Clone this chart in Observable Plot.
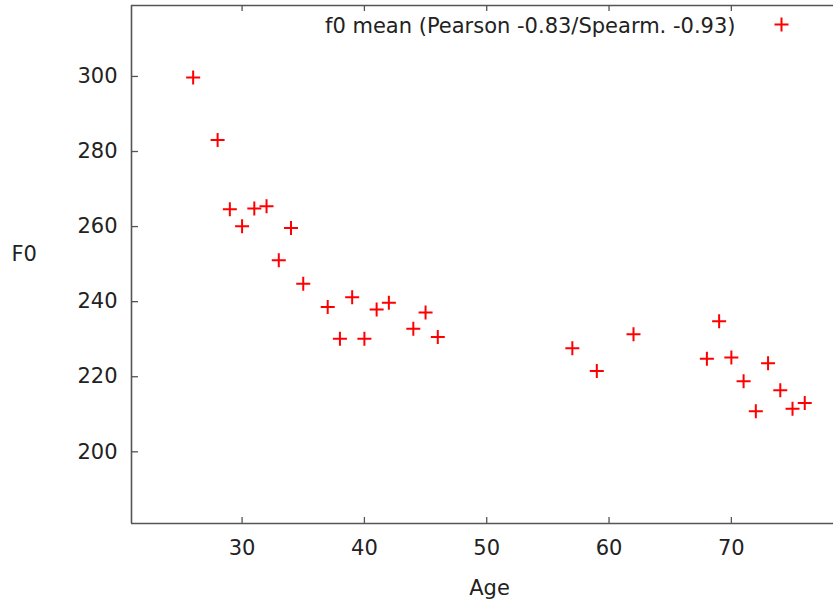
<!DOCTYPE html>
<html>
<head>
<meta charset="utf-8">
<script src="https://cdn.jsdelivr.net/npm/d3@7"></script>
<script src="https://cdn.jsdelivr.net/npm/@observablehq/plot@0.6"></script>
<style>
  html, body { margin: 0; padding: 0; background: #fff; }
</style>
</head>
<body>
<div id="chart"></div>
<script>
const ages = [26, 28, 29, 30, 31, 32, 33, 34, 35, 37, 38, 39, 40, 41, 42, 44, 45, 46, 57, 59, 62, 68, 69, 70, 71, 72, 73, 74, 75, 76];
const f0Mean = [299.7, 283.1, 264.6, 260.1, 264.8, 265.4, 251.0, 259.6, 244.8, 238.6, 230.1, 241.2, 230.1, 237.9, 239.7, 232.8, 237.1, 230.6, 227.6, 221.5, 231.3, 224.8, 234.8, 225.1, 218.8, 210.8, 223.6, 216.4, 211.5, 213.0];
const xTicks = [30, 40, 50, 60, 70];
const yTicks = [200, 220, 240, 260, 280, 300];
const seriesLabel = "f0 mean (Pearson -0.83/Spearm. -0.93)";
const xLabel = "Age";
const yLabel = "F0";

const data = ages.map((a, i) => ({age: a, f0: f0Mean[i]}));

const xDom = [20.96, 78.35];
const yDom = [180.9, 318.9];
const pxX = (xDom[1] - xDom[0]) / (833 - 131);
const pxY = (yDom[1] - yDom[0]) / (523 - 5);

const plusSymbol = {
  draw(context) {
    const a = 7;
    context.moveTo(-a, 0); context.lineTo(a, 0);
    context.moveTo(0, -a); context.lineTo(0, a);
  }
};

const frameColor = "#555";
const red = "#f00";

const chart = Plot.plot({
  width: 833,
  height: 603,
  marginLeft: 131,
  marginRight: 0,
  marginTop: 5,
  marginBottom: 80,
  style: {fontFamily: "DejaVu Sans, sans-serif", fontSize: "21px", color: "#222", background: "#fff"},
  x: {domain: xDom},
  y: {domain: yDom},
  marks: [
    // frame (left, bottom, top)
    Plot.ruleX([xDom[0]], {stroke: frameColor, strokeWidth: 1.6}),
    Plot.ruleY([yDom[0], yDom[1]], {stroke: frameColor, strokeWidth: 1.6}),
    // inward ticks
    Plot.ruleY(yTicks, {y: d => d, x1: xDom[0], x2: xDom[0] + 7 * pxX, stroke: frameColor, strokeWidth: 1.3}),
    Plot.ruleX(xTicks, {x: d => d, y1: yDom[0], y2: yDom[0] + 6 * pxY, stroke: frameColor, strokeWidth: 1.3}),
    Plot.ruleX(xTicks, {x: d => d, y1: yDom[1], y2: yDom[1] - 6 * pxY, stroke: frameColor, strokeWidth: 1.3}),
    Plot.axisX(xTicks, {tickSize: 0, tickPadding: 17, label: null, fontSize: 21}),
    Plot.axisY(yTicks, {tickSize: 0, tickPadding: 14, label: null, fontSize: 21}),
    // axis titles
    Plot.text([yLabel], {frameAnchor: "left", text: d => d, textAnchor: "start", lineAnchor: "middle", dx: -120, dy: -10.7, fontSize: 21}),
    Plot.text([xLabel], {frameAnchor: "bottom", text: d => d, textAnchor: "middle", lineAnchor: "middle", dx: 7, dy: 65, fontSize: 21}),
    // legend
    Plot.text([seriesLabel], {frameAnchor: "top-right", text: d => d, textAnchor: "end", lineAnchor: "middle", dx: -98, dy: 21, fontSize: 21}),
    Plot.dot([seriesLabel], {frameAnchor: "top-right", dx: -52, dy: 19, symbol: plusSymbol, r: 7, fill: "none", stroke: red, strokeWidth: 2}),
    // data
    Plot.dot(data, {x: "age", y: "f0", symbol: plusSymbol, r: 7, fill: "none", stroke: red, strokeWidth: 2})
  ]
});

document.getElementById("chart").appendChild(chart);
</script>
</body>
</html>
